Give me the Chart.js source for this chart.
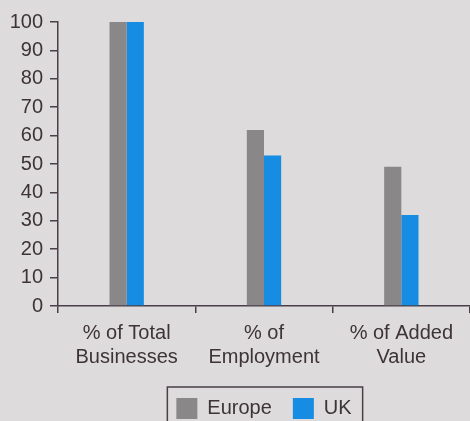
<!DOCTYPE html>
<html>
<head>
<meta charset="utf-8">
<script src="https://cdn.jsdelivr.net/npm/chart.js@4"></script>
<style>
  html, body { margin: 0; padding: 0; background: #dddbdb; }
  #wrap { width: 470px; height: 421px; }
</style>
</head>
<body>
<div id="wrap"><canvas id="myChart"></canvas></div>
<script>
  var categories = [['% of Total', 'Businesses'], ['% of', 'Employment'], ['% of Added', 'Value']];
  var europeValues = [100, 62, 49];
  var ukValues = [100, 53, 32];
  var seriesNames = ['Europe', 'UK'];

  var textColor = '#3d3338';
  var axisColor = '#4a3f48';

  // draws the frame round the legend, like the printed original
  var legendFrame = {
    id: 'legendFrame',
    afterDraw: function (chart) {
      var boxes = chart.legend.legendHitBoxes;
      if (!boxes || !boxes.length) return;
      var first = boxes[0], last = boxes[boxes.length - 1];
      var ctx = chart.ctx;
      ctx.save();
      ctx.strokeStyle = axisColor;
      ctx.lineWidth = 1.5;
      ctx.strokeRect(first.left - 9, first.top - 11, last.left + last.width + 11 - (first.left - 9), 60);
      ctx.restore();
    }
  };

  Chart.defaults.font.family = '"Liberation Sans", Arial, sans-serif';
  Chart.defaults.font.size = 20;
  Chart.defaults.color = textColor;

  let barChart = new Chart('myChart', {
    type: 'bar',
    data: {
      labels: categories,
      datasets: [{
        label: seriesNames[0],
        data: europeValues,
        backgroundColor: '#8a8788',
        borderWidth: 0
      }, {
        label: seriesNames[1],
        data: ukValues,
        backgroundColor: '#168de3',
        borderWidth: 0
      }]
    },
    options: {
      responsive: true,
      maintainAspectRatio: false,
      animation: false,
      categoryPercentage: 0.25,
      barPercentage: 1,
      layout: { padding: { top: 22, right: 0, left: 0, bottom: -8 } },
      plugins: {
        tooltip: { enabled: false },
        legend: {
          position: 'bottom',
          fullSize: false,
          labels: {
            boxWidth: 21,
            boxHeight: 21,
            padding: 21,
            color: textColor,
            font: { size: 20 }
          }
        }
      },
      scales: {
        x: {
          grid: { drawOnChartArea: false, tickLength: 7, color: axisColor, lineWidth: 1.5 },
          border: { color: axisColor, width: 1.5 },
          ticks: { color: textColor, padding: 8, maxRotation: 0, font: { size: 20 } }
        },
        y: {
          min: 0,
          max: 100,
          afterFit: function (scale) { scale.width = 58; },
          grid: { drawOnChartArea: false, tickLength: 8, color: axisColor, lineWidth: 1.5 },
          border: { color: axisColor, width: 1.5 },
          ticks: { stepSize: 10, color: textColor, padding: 7, font: { size: 20 } }
        }
      }
    },
    plugins: [legendFrame]
  });
</script>
</body>
</html>
